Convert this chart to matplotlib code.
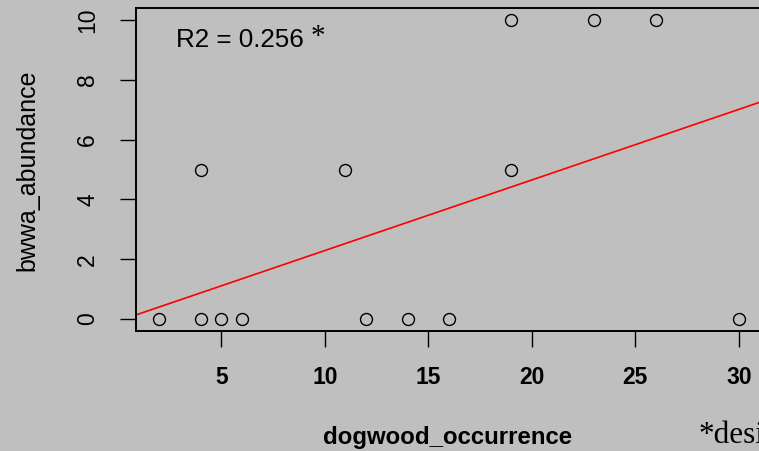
import numpy as np
import matplotlib
matplotlib.use("Agg")
from matplotlib import pyplot as plt

# data
dogwood_occurrence = [2, 4, 4, 5, 6, 11, 12, 14, 16, 19, 19, 23, 26, 30]
bwwa_abundance = [0, 0, 5, 0, 0, 5, 0, 0, 0, 10, 5, 10, 10, 0]
fit_intercept = -0.07
fit_slope = 0.236
x_ticks = [5, 10, 15, 20, 25, 30]
y_ticks = [0, 2, 4, 6, 8, 10]
r2_text = "R2 = 0.256"

bg = "#bfbfbf"
W, H = 759, 451

fig = plt.figure(figsize=(W / 100, H / 100), dpi=100, facecolor=bg)
ax = fig.add_axes([136 / W, 1 - 331 / H, (762 - 136) / W, (331 - 8) / H])
ax.set_facecolor(bg)

# points
ax.plot(dogwood_occurrence, bwwa_abundance, "o", mfc="none", mec="black",
        ms=8.6, mew=1.0, clip_on=False)

# regression line
xl = np.array([0.88, 31.12])
ax.plot(xl, fit_intercept + fit_slope * xl, color="red", lw=1.2)

ax.set_xlim(0.88, 31.12)
ax.set_ylim(-0.4, 10.4)

for s in ax.spines.values():
    s.set_linewidth(1.4)

ax.set_xticks(x_ticks)
ax.set_yticks(y_ticks)
ax.tick_params(axis="both", direction="out", length=11.5, width=1.0, color="black")
ax.tick_params(axis="x", pad=14)
ax.tick_params(axis="y", pad=15)
ax.set_xticklabels([str(v) for v in x_ticks], fontfamily="Liberation Sans",
                   fontweight="bold", fontsize=16.5)
ax.set_yticklabels([str(v) for v in y_ticks], fontfamily="Liberation Sans",
                   fontsize=16.5, rotation=90, va="center")

# axis titles
fig.text(448 / W, 1 - 444 / H, "dogwood_occurrence", ha="center", va="baseline",
         fontfamily="Liberation Sans", fontweight="bold", fontsize=17.3)
fig.text(27 / W, 1 - 170 / H, "bwwa_abundance", ha="center", va="center",
         rotation=90, fontfamily="Liberation Sans", fontsize=18)

# R2 annotation
fig.text(176 / W, 1 - 47 / H, r2_text, ha="left", va="baseline",
         fontfamily="Liberation Sans", fontsize=18.7)
fig.text(311 / W, 1 - 44 / H, "*", ha="left", va="baseline",
         fontfamily="Liberation Serif", fontsize=21)

# cropped footnote
fig.text(698 / W, 1 - 443 / H, "*desi", ha="left", va="baseline",
         fontfamily="Liberation Serif", fontsize=22.5)

fig.savefig("out.png", dpi=100, facecolor=bg)
